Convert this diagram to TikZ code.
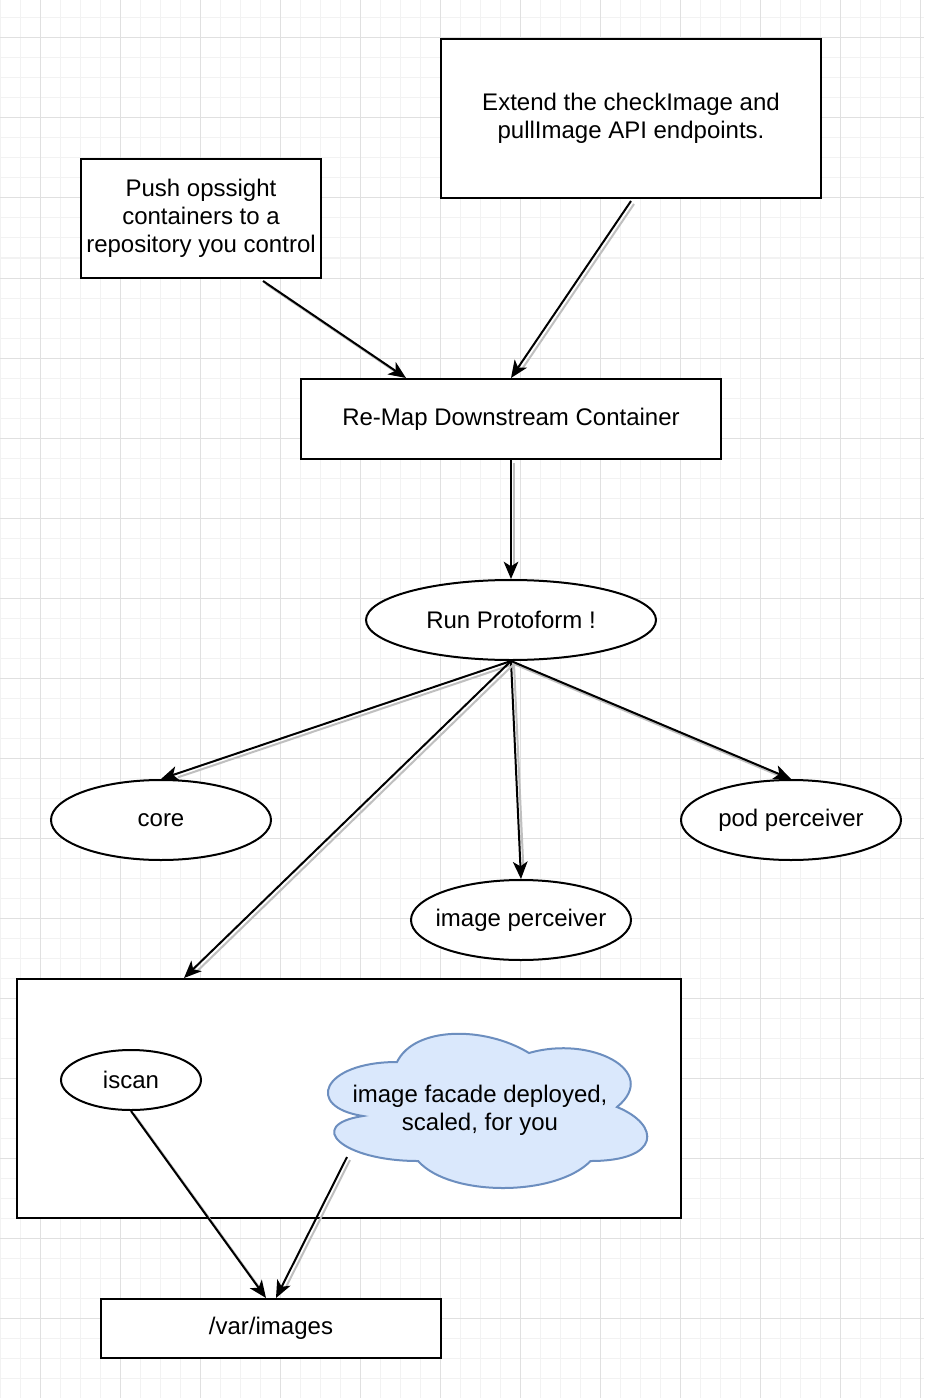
\documentclass[tikz,border=0pt]{standalone}
\usepackage{fontspec}
\setmainfont{Liberation Sans}
\usetikzlibrary{arrows.meta,calc,shapes.geometric}
\begin{document}
\begin{tikzpicture}[x=0.75pt,y=-0.75pt,
  minorgrid/.style={draw=black!5, line width=0.75pt},
  majorgrid/.style={draw=black!12, line width=0.75pt},
  txt/.style={font=\fontsize{18}{21}\selectfont, align=center},
  box/.style={txt, draw=black, line width=1.5pt, fill=white, inner sep=0pt, rectangle},
  ell/.style={txt, draw=black, line width=1.5pt, fill=white, inner sep=0pt, ellipse},
  arr/.style={line width=1.5pt, -{Stealth[length=13pt,width=11pt,inset=3.5pt]},
    preaction={draw=black!25, line width=1.5pt, -, shorten >=11pt, transform canvas={shift={(3,3)}}}},
  cloudstyle/.style={draw={rgb,255:red,108;green,142;blue,191}, fill={rgb,255:red,218;green,232;blue,252}, line width=1.5pt}
]
\useasboundingbox (0,0) rectangle (924,1398);
\fill[white] (0,0) rectangle (924,1398);
% grid
\foreach \i in {0,20,...,920} \draw[minorgrid] (\i,0) -- (\i,1398);
\foreach \j in {18,38,...,1398} \draw[minorgrid] (0,\j) -- (924,\j);
\foreach \i in {40,120,...,920} \draw[majorgrid] (\i,0) -- (\i,1398);
\foreach \j in {38,118,...,1398} \draw[majorgrid] (0,\j) -- (924,\j);

% nodes
\node[box, minimum width=285pt, minimum height=119.25pt] (extend) at (631,118.5)
  {Extend the checkImage and\\pullImage API endpoints.};
\node[box, minimum width=180pt, minimum height=89.25pt] (push) at (201,218.5)
  {Push opssight\\containers to a\\repository you control};
\node[box, minimum width=315pt, minimum height=60pt] (remap) at (511,419)
  {Re-Map Downstream Container};
\node[ell, minimum width=217.5pt, minimum height=60pt] (run) at (511,620)
  {Run Protoform !};
\node[ell, minimum width=165pt, minimum height=60pt] (core) at (161,820) {core};
\node[ell, minimum width=165pt, minimum height=60pt, inner xsep=-8pt] (pod) at (791,820) {pod perceiver};
\node[ell, minimum width=165pt, minimum height=60pt, inner xsep=-8pt] (imgp) at (521,920) {image perceiver};
\node[box, minimum width=498pt, minimum height=179.25pt] (big) at (349,1098.5) {};
\node[ell, minimum width=105pt, minimum height=45pt] (iscan) at (131,1080) {iscan};
\node[box, minimum width=255pt, minimum height=44.25pt] (var) at (271,1328.5) {/var/images};

% cloud
\path[cloudstyle] (397,1062)
  .. controls (322,1062) and (304,1107) .. (363,1116)
  .. controls (304,1125) and (342,1161) .. (418.1,1161)
  .. controls (449.8,1197) and (555.4,1197) .. (590.6,1161)
  .. controls (661,1161) and (661,1125) .. (617,1107)
  .. controls (661,1071) and (590.6,1035) .. (529,1053)
  .. controls (485,1026) and (414.6,1026) .. (397,1062) -- cycle;
\node[txt] (cloud) at (480,1110) {image facade deployed,\\scaled, for you};
\coordinate (cloudout) at (347,1157);

% connectors
\draw[arr] ($(push.south)+(62,2)$) -- ($(remap.north)+(-105,0)$);
\draw[arr] ($(extend.south)+(0,2)$) -- (remap.north);
\draw[arr] (remap.south) -- (run.north);
\draw[arr] (run.south) -- (core.north);
\draw[arr] (run.south) -- (pod.north);
\draw[arr] (run.south) -- (imgp.north);
\draw[arr] (run.south) -- ($(big.north)+(-165,0)$);
\draw[arr] (iscan.south) -- ($(var.north)+(-5,0)$);
\draw[arr] (cloudout) -- ($(var.north)+(5,0)$);
\end{tikzpicture}
\end{document}
